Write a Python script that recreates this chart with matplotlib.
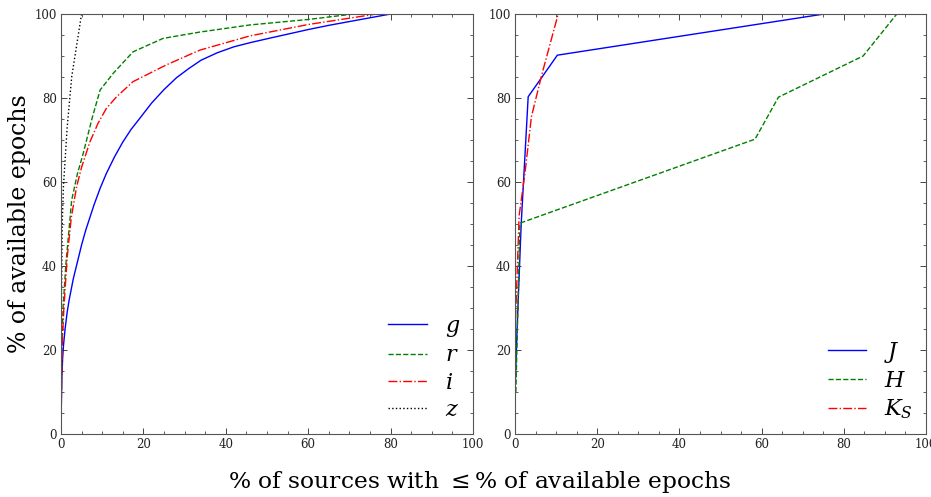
import numpy as np
import matplotlib
matplotlib.use("Agg")
import matplotlib.pyplot as plt
from matplotlib.ticker import MultipleLocator

plt.rcParams["font.family"] = "DejaVu Serif"
plt.rcParams["mathtext.fontset"] = "dejavuserif"

# optical bands (left panel): x = % of sources, y = % of available epochs
g_x = [0, 0.1, 0.2, 0.4, 0.6, 1, 1.5, 2, 3, 4, 5, 6, 7, 8, 9.5, 11, 13, 15, 17, 19,
       22, 25, 28, 31, 34, 38, 42, 46, 50, 55, 60, 65, 70, 75, 80, 100]
g_y = [0, 8, 13, 18, 21, 25, 29, 32, 37, 41, 45, 48.5, 51.5, 54.5, 58.5, 62, 66, 69.5, 72.5, 75,
       78.8, 82, 84.8, 87, 89, 90.8, 92.2, 93.2, 94.1, 95.2, 96.3, 97.3, 98.2, 99.1, 100, 100]

r_x = [0, 0.2, 0.5, 1.2, 2.6, 4, 5.4, 7.5, 9.5, 12.7, 17.5, 24.8, 33.7, 45.9, 60, 71, 100]
r_y = [0, 20, 30, 40.6, 55.7, 62, 66.8, 75, 81.9, 85.9, 91, 94.2, 95.7, 97.4, 98.7, 100, 100]

i_x = [0, 0.25, 0.7, 1.5, 2.5, 3.8, 5, 7, 9, 11, 13.5, 17.5, 25.6, 33.7, 45.9, 60, 76.6, 100]
i_y = [0, 20, 30, 42, 51.5, 58.9, 63.5, 69.5, 74, 77.5, 80.3, 83.9, 87.9, 91.4, 94.8, 97.5, 100, 100]

z_x = [0, 0.1, 0.3, 0.6, 1.5, 2.6, 5]
z_y = [0, 30, 50, 59, 73, 85, 100]

# near-infrared bands (right panel)
J_x = [0, 0.5, 1.5, 3.2, 10.3, 75.2, 100]
J_y = [10, 25, 50, 80.3, 90.2, 100, 100]

H_x = [0.2, 1.2, 58.4, 64.1, 84.7, 92.9, 100]
H_y = [10, 50.2, 70.2, 80.2, 90, 100, 100]

K_x = [0, 0.4, 1, 2.4, 4, 6.5, 10.5]
K_y = [24, 35, 52, 62, 75.6, 85.5, 100]

fig = plt.figure(figsize=(9.31, 4.97), dpi=100)
ax1 = fig.add_axes([0.0655, 0.1268, 0.4425, 0.845])
ax2 = fig.add_axes([0.5532, 0.1268, 0.4414, 0.845])

ax1.plot(g_x, g_y, "b-", lw=1.0, label="$g$")
ax1.plot(r_x, r_y, "g--", lw=1.0, label="$r$")
ax1.plot(i_x, i_y, "r-.", lw=1.0, label="$i$")
ax1.plot(z_x, z_y, "k:", lw=1.0, label="$z$")

ax2.plot(J_x, J_y, "b-", lw=1.0, label="$J$")
ax2.plot(H_x, H_y, "g--", lw=1.0, label="$H$")
ax2.plot(K_x, K_y, "r-.", lw=1.0, label="$K_S$")

for ax in (ax1, ax2):
    ax.set_xlim(0, 100)
    ax.set_ylim(0, 100)
    ax.xaxis.set_major_locator(MultipleLocator(20))
    ax.yaxis.set_major_locator(MultipleLocator(20))
    ax.xaxis.set_minor_locator(MultipleLocator(5))
    ax.yaxis.set_minor_locator(MultipleLocator(5))
    ax.tick_params(which="both", direction="in", top=True, right=True,
                   labelsize=8.5, pad=3, color="#444444", labelcolor="#222222")
    ax.tick_params(which="major", length=4, width=0.7)
    ax.tick_params(which="minor", length=2.5, width=0.6)
    for s in ax.spines.values():
        s.set_linewidth(0.8)
        s.set_color("#555555")
    ax.legend(loc="lower right", frameon=False, fontsize=16,
              handlelength=1.75, labelspacing=0.24, borderaxespad=0.18)

fig.text(0.021, 0.55, "% of available epochs", rotation=90,
         ha="center", va="center", fontsize=17)
fig.text(0.515, 0.03, r"% of sources with $\leq$% of available epochs",
         ha="center", va="center", fontsize=16.8)

fig.savefig("out.png", dpi=100)
